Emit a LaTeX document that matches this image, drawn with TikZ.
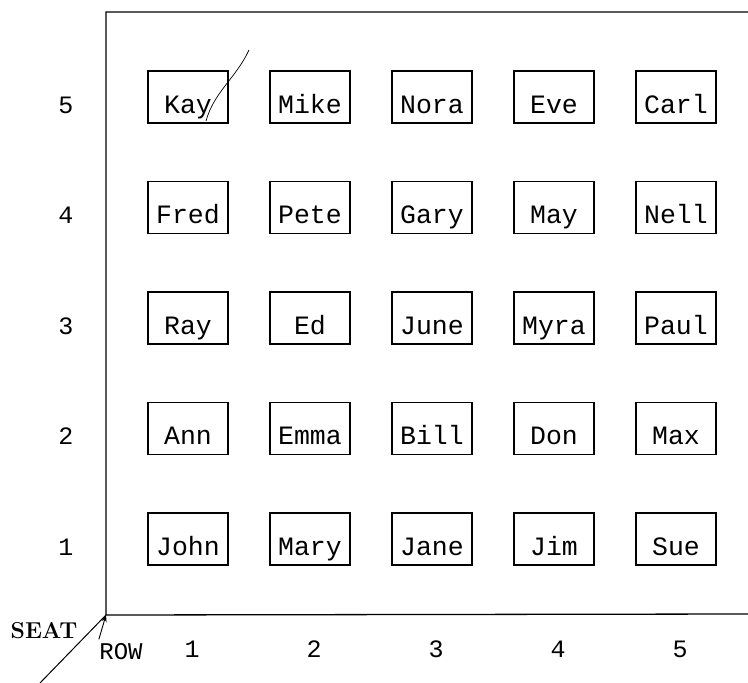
\documentclass[tikz,border=0pt]{standalone}
\usepackage{fontspec}
\setmonofont{Liberation Mono}
\usetikzlibrary{arrows.meta,positioning}

\tikzset{
	seatbox/.style={draw, line width=1.4pt, minimum width=80pt, minimum height=52pt,
		inner sep=0pt, text height=32pt, text depth=0pt,
		font=\ttfamily\fontsize{26.5}{30}\selectfont},
	axisnum/.style={font=\ttfamily\fontsize{25}{29}\selectfont}
}

\begin{document}
\begin{tikzpicture}[x=1pt, y=-1pt]
		\useasboundingbox (0,0) rectangle (748,683);
		\pgfmathsetmacro{\xa}{188}
		\pgfmathsetmacro{\dx}{122}
		\pgfmathsetmacro{\ya}{97}
		\pgfmathsetmacro{\dy}{110.5}
		
		% frame
		\coordinate (O) at (106,615);
		\coordinate (TL) at (106,12);
		\coordinate (TR) at (748,12);
		\coordinate (BR) at (748,614);
		\coordinate (D) at (40,683);
		\draw[line width=1.3pt] (TR) -- (TL) -- (O) -- (BR);
		\draw[line width=1pt] (O) -- (D);
		
		% seats, from seat 5 down to seat 1
		\foreach \n [count=\k from 0] in {Kay,Mike,Nora,Eve,Carl,
			Fred,Pete,Gary,May,Nell,
			Ray,Ed,June,Myra,Paul,
			Ann,Emma,Bill,Don,Max,
			John,Mary,Jane,Jim,Sue}{
			\pgfmathtruncatemacro{\s}{5-int(\k/5)}
			\pgfmathtruncatemacro{\r}{mod(\k,5)+1}
			\node[seatbox] (s\s r\r) at ({\xa+\dx*(\r-1)}, {\ya+\dy*(5-\s)}) {\n};
		}
		
		% pen stroke over Kay
		\draw[line width=0.7pt] (249,50) .. controls (236,78) and (214,92) .. (206,121);
		
		% axis numbers
		\foreach \s in {1,...,5}
			\node[axisnum] (seat\s) at (66, {\ya+8+\dy*(5-\s)}) {\s};
		\foreach \r in {1,...,5}
			\node[axisnum] (row\r) at ({\xa+4+\dx*(\r-1)}, 649) {\r};
		
		% axis names
		\node[font=\rmfamily\bfseries\fontsize{23}{27}\selectfont] (seatname) at (44,631) {SEAT};
		\node[font=\ttfamily\fontsize{24}{28}\selectfont] (rowname) at (121,652) {ROW};
		\draw[-{Stealth[length=7pt]}, line width=0.9pt] (rowname.north west) ++(3,-1) -- (O);
	\end{tikzpicture}
\end{document}
